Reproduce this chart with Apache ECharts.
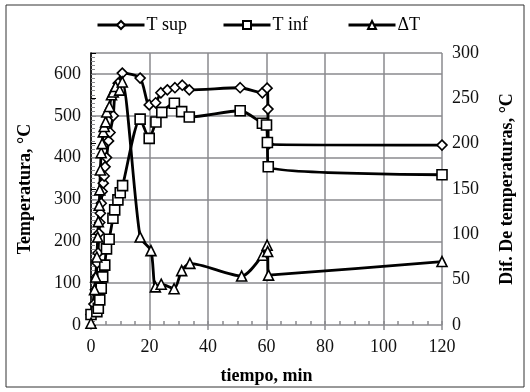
<!DOCTYPE html>
<html><head><meta charset="utf-8">
<script src="https://cdn.jsdelivr.net/npm/echarts@6/dist/echarts.min.js"></script>
<style>html,body{margin:0;padding:0;background:#fff}#c{width:530px;height:392px}</style>
</head><body><div id="c"></div>
<script>
var seriesNames = ['T sup', 'T inf', '\u0394T'];
var xTicks = [0, 20, 40, 60, 80, 100, 120];
var leftTicks = [0, 100, 200, 300, 400, 500, 600];
var rightTicks = [0, 50, 100, 150, 200, 250, 300];

var supTime = [0, 1, 1.5, 1.8, 2.1, 2.4, 2.7, 3.0, 3.2, 3.5, 3.8, 4.2, 4.5, 4.8, 5.3, 6.0, 6.5, 7.6, 8.2, 9.3, 10.7, 16.8, 19.9, 22.1, 23.9, 26.1, 28.7, 31.2, 33.6, 51.0, 58.6, 60.2, 60.5, 60.7, 120];
var supVal = [25, 50, 84, 115, 148, 172, 219, 245, 267, 291, 319, 339, 356, 378, 400, 440, 460, 500, 554, 578, 602, 590, 526, 531, 555, 562, 567, 573, 562, 567, 555, 566, 516, 432, 430];

var infTime = [0, 2.0, 2.5, 3.0, 3.5, 4.0, 4.7, 5.3, 6.2, 7.5, 8.1, 9.2, 10.0, 10.8, 16.8, 19.9, 22.2, 24.2, 28.5, 31.0, 33.6, 51.0, 58.6, 60.0, 60.3, 60.6, 120];
var infVal = [25, 32, 40, 60, 88, 115, 143, 182, 205, 255, 275, 299, 316, 333, 492, 446, 485, 508, 530, 510, 497, 512, 482, 478, 436, 378, 359];

var dTime = [0, 1.2, 1.6, 2.0, 2.3, 2.5, 2.8, 3.0, 3.2, 3.5, 3.8, 4.2, 4.5, 5.0, 5.4, 6.3, 7.0, 7.6, 8.4, 9.8, 10.7, 16.8, 20.5, 22.0, 24.0, 28.4, 31.0, 33.8, 51.5, 58.7, 60.2, 60.4, 60.7, 120];
var dVal = [2, 39, 53, 75, 97, 114, 132, 149, 171, 190, 200, 213, 219, 224, 235, 241, 254, 257, 263, 259, 268, 97, 82, 42, 45, 40, 60, 68, 54, 77, 88, 81, 55, 70];

function pairs(t, v) { return t.map(function (x, i) { return [x, v[i]]; }); }

var serif = 'Liberation Serif';
var grid = '#8a8a8e';
var fs = 18;
var chart = echarts.init(document.getElementById('c'), null, {renderer: 'canvas'});

function mkSeries(name, t, v, symbol, size, yIdx) {
  return {
    name: name, type: 'line', xAxisIndex: 0, yAxisIndex: yIdx,
    data: pairs(t, v), smooth: 0.25,
    symbol: symbol, symbolSize: size, showAllSymbol: true,
    lineStyle: {color: '#000', width: 2.8},
    itemStyle: {color: '#fff', borderColor: '#000', borderWidth: 1.6},
    emphasis: {disabled: true}, z: 3
  };
}
function mkLegend(name, left) {
  return {
    top: 16, left: left, itemWidth: 47, itemHeight: 10, itemGap: 0, padding: 0,
    lineStyle: {width: 3, color: '#000'},
    textStyle: {fontFamily: serif, fontSize: fs, color: '#000', padding: [0, 0, 0, -3]},
    data: [name]
  };
}

chart.setOption({
  animation: false,
  backgroundColor: '#fff',
  graphic: [{type: 'rect', shape: {x: 6, y: 5, width: 518, height: 382}, style: {fill: 'none', stroke: '#333', lineWidth: 1}, z: -1}],
  legend: [mkLegend(seriesNames[0], 96), mkLegend(seriesNames[1], 222), mkLegend(seriesNames[2], 347)],
  grid: {left: 91, right: 88, top: 53, bottom: 67},
  xAxis: [{
    type: 'value', min: 0, max: 120, interval: 20,
    axisLine: {show: false},
    axisTick: {show: true, inside: true, length: 4, lineStyle: {color: grid, width: 1.5}},
    minorTick: {show: true, splitNumber: 4, length: 4, lineStyle: {color: grid, width: 1.5}},
    splitLine: {show: true, lineStyle: {color: grid, width: 1.5}},
    axisLabel: {fontFamily: serif, fontSize: fs, color: '#111', margin: 13,
      formatter: function (v) { return xTicks.indexOf(v) >= 0 ? String(v) : ''; }},
    name: 'tiempo, min', nameLocation: 'middle', nameGap: 42,
    nameTextStyle: {fontFamily: serif, fontSize: fs, fontWeight: 'bold', color: '#000'}
  }, {
    type: 'value', min: 0, max: 120, interval: 20, position: 'bottom',
    axisLine: {show: false},
    axisTick: {show: true, length: 5, lineStyle: {color: grid, width: 1.5}},
    axisLabel: {show: false}, splitLine: {show: false}
  }],
  yAxis: [{
    type: 'value', min: 0, max: 650, interval: 100, position: 'left',
    axisLine: {show: true, lineStyle: {color: grid, width: 1.5}},
    axisTick: {show: true, inside: true, length: 5, lineStyle: {color: grid}},
    minorTick: {show: true, splitNumber: 10, length: 4, lineStyle: {color: grid}},
    splitLine: {show: true, lineStyle: {color: grid, width: 1.5}},
    axisLabel: {fontFamily: serif, fontSize: fs, color: '#111', margin: 10, showMaxLabel: false,
      formatter: function (v) { return leftTicks.indexOf(v) >= 0 ? String(v) : ''; }},
    name: 'Temperatura, \u00b0C', nameLocation: 'middle', nameGap: 57, nameRotate: 90,
    nameTextStyle: {fontFamily: serif, fontSize: fs, fontWeight: 'bold', color: '#000'}
  }, {
    type: 'value', min: 0, max: 300, interval: 50, position: 'right', alignTicks: false,
    axisLine: {show: true, lineStyle: {color: '#000', width: 1.5}},
    axisTick: {show: true, length: 5, lineStyle: {color: '#000'}},
    splitLine: {show: false},
    axisLabel: {fontFamily: serif, fontSize: fs, color: '#111', margin: 10,
      formatter: function (v) { return rightTicks.indexOf(v) >= 0 ? String(v) : ''; }},
    name: 'Dif. De temperaturas, \u00b0C', nameLocation: 'middle', nameGap: 56, nameRotate: 90,
    nameTextStyle: {fontFamily: serif, fontSize: fs, fontWeight: 'bold', color: '#000'}
  }],
  series: [
    mkSeries(seriesNames[0], supTime, supVal, 'diamond', 10, 0),
    mkSeries(seriesNames[1], infTime, infVal, 'rect', 10, 0),
    mkSeries(seriesNames[2], dTime, dVal, 'triangle', 10, 1)
  ]
});
</script></body></html>
